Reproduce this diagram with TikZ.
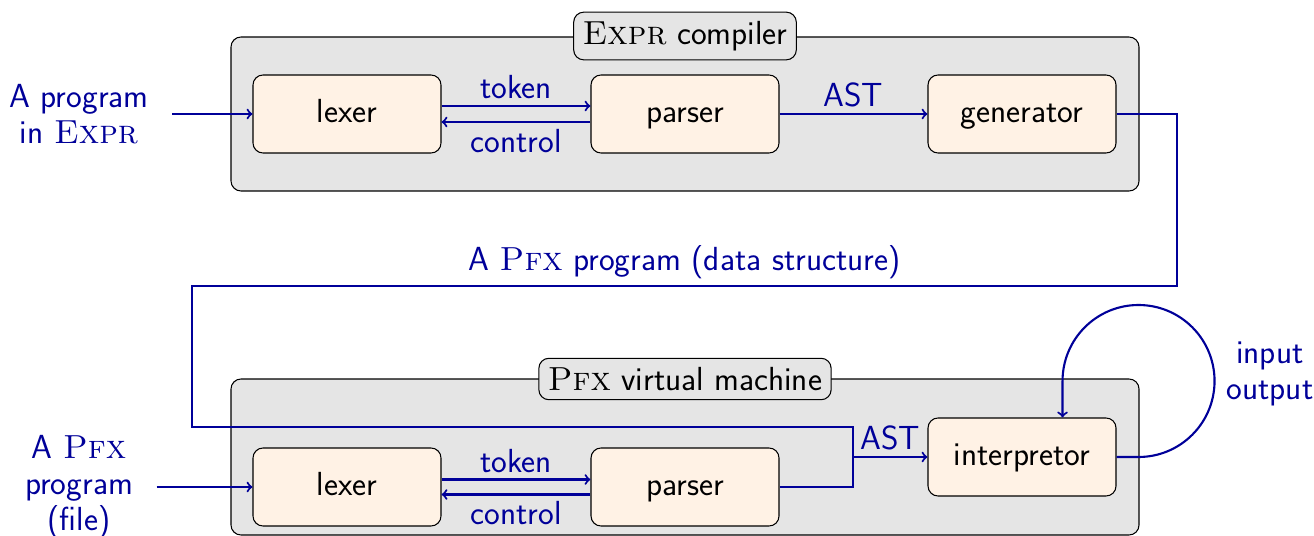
\documentclass[tikz,border=0pt]{standalone}
\usepackage{fontspec}
\colorlet{flowblue}{blue!60!black}
\begin{document}
\begin{tikzpicture}[font={\fontsize{19}{20.5}\selectfont\sffamily},
  module/.style={draw,line width=0.6pt,rounded corners=0.2cm,fill=orange!10,minimum width=3.76cm,minimum height=1.56cm,text height=0.47cm,text depth=0.12cm},
  group/.style={draw,line width=0.6pt,rounded corners=0.2cm,fill=black!10},
  grouptitle/.style={group,inner sep=0.18cm},
  flow/.style={flowblue,line width=1.2pt,->},
  flowlabel/.style={text=flowblue,align=center}]
\useasboundingbox (0,0) rectangle (26.28,-10.72);
%compiler
\draw[group] (4.62,-0.74) rectangle (22.78,-3.82);
\node[grouptitle] (compTitle) at (13.7,-0.72) {\textrm{\textsc{Expr}} compiler};
\node[module] (compLexer) at (6.94,-2.28) {lexer};
\node[module] (compParser) at (13.7,-2.28) {parser};
\node[module] (compGen) at (20.44,-2.28) {generator};
\node[flowlabel] (compInput) at (1.58,-2.28) {A program\\in \textrm{\textsc{Expr}}};
\draw[flow,shorten <=0.35cm] (compInput) -- (compLexer);
\draw[flow] ([yshift=0.16cm]compLexer.east) -- node[flowlabel,above]{token} ([yshift=0.16cm]compParser.west);
\draw[flow] ([yshift=-0.16cm]compParser.west) -- node[flowlabel,below]{control} ([yshift=-0.16cm]compLexer.east);
\draw[flow] (compParser) -- node[flowlabel,above]{AST} (compGen);
%virtual machine
\draw[group] (4.62,-7.58) rectangle (22.78,-10.70);
\node[grouptitle] (vmTitle) at (13.7,-7.58) {\textrm{\textsc{Pfx}} virtual machine};
\node[module] (vmLexer) at (6.94,-9.74) {lexer};
\node[module] (vmParser) at (13.7,-9.74) {parser};
\node[module] (vmInterp) at (20.44,-9.14) {interpretor};
\node[flowlabel] (vmInput) at (1.58,-9.74) {A \textrm{\textsc{Pfx}}\\program\\(file)};
\draw[flow,shorten <=0.35cm] (vmInput) -- (vmLexer);
\draw[flow] ([yshift=0.15cm]vmLexer.east) -- node[flowlabel,above]{token} ([yshift=0.15cm]vmParser.west);
\draw[flow] ([yshift=-0.15cm]vmParser.west) -- node[flowlabel,below]{control} ([yshift=-0.15cm]vmLexer.east);
%compiler output into the interpretor
\coordinate (astJoin) at (17.06,-9.14);
\draw[flow] (compGen.east) -| (23.54,-5.72) -- node[flowlabel,above]{A \textrm{\textsc{Pfx}} program (data structure)} (3.84,-5.72) |- (17.06,-8.54) -- (astJoin) -- node[flowlabel,above]{AST} (vmInterp.west);
\draw[flow,-] (vmParser.east) -| (astJoin);
%loop
\draw[flow] (vmInterp.east) -- ++(0.44,0) arc[start angle=-90,end angle=180,radius=1.52] coordinate (loopLeft) -- (loopLeft |- vmInterp.north);
\node[flowlabel] (loopLabel) at (25.4,-7.48) {input\\output};
\end{tikzpicture}
\end{document}
